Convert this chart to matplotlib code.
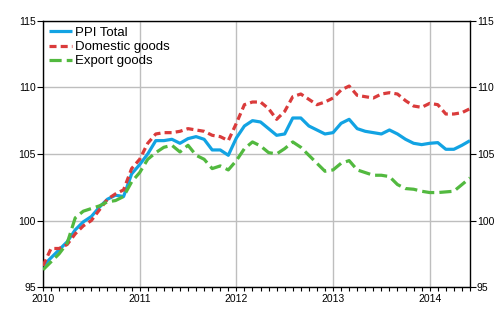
import matplotlib
matplotlib.use("Agg")
import matplotlib.pyplot as plt
from matplotlib.ticker import MultipleLocator, FixedLocator
import numpy as np

plt.rcParams['font.family'] = ['Liberation Sans', 'DejaVu Sans']

year_labels = ["2010", "2011", "2012", "2013", "2014"]
y_ticks = [95, 100, 105, 110, 115]

ppi_total = [96.6, 97.2, 97.8, 98.4, 99.3, 99.9, 100.3, 101.0, 101.6, 101.9, 101.8, 103.5,
             104.2, 105.0, 106.0, 106.0, 106.1, 105.8, 106.15, 106.3, 106.1, 105.3, 105.3, 104.9,
             106.2, 107.1, 107.5, 107.4, 106.9, 106.4, 106.5, 107.7, 107.7, 107.1, 106.8, 106.5,
             106.6, 107.3, 107.6, 106.9, 106.7, 106.6, 106.5, 106.8, 106.5, 106.1, 105.8, 105.7,
             105.8, 105.85, 105.35, 105.35, 105.65, 106.0]
domestic = [96.6, 97.9, 97.9, 98.2, 99.0, 99.6, 100.0, 100.8, 101.6, 102.0, 102.3, 103.9,
            104.6, 105.8, 106.5, 106.6, 106.6, 106.7, 106.9, 106.8, 106.7, 106.4, 106.3, 106.0,
            107.3, 108.7, 108.9, 108.9, 108.4, 107.6, 108.2, 109.3, 109.5, 109.1, 108.7, 108.9,
            109.2, 109.8, 110.1, 109.4, 109.3, 109.2, 109.5, 109.6, 109.5, 109.0, 108.6, 108.5,
            108.8, 108.7, 108.0, 108.0, 108.1, 108.4]
export = [96.3, 96.9, 97.5, 98.3, 100.2, 100.7, 100.9, 101.1, 101.4, 101.5, 101.8, 102.9,
          103.6, 104.6, 105.1, 105.5, 105.65, 105.15, 105.65, 104.9, 104.6, 103.9, 104.1, 103.8,
          104.5, 105.4, 105.9, 105.6, 105.1, 105.0, 105.4, 105.9, 105.5, 104.9, 104.3, 103.7,
          103.8, 104.3, 104.5, 103.8, 103.6, 103.4, 103.4, 103.3, 102.7, 102.4, 102.35, 102.2,
          102.1, 102.1, 102.15, 102.2, 102.7, 103.2]

x = np.arange(len(ppi_total))

fig = plt.figure(figsize=(5.0, 3.3), dpi=100)
ax = fig.add_axes([0.086, 0.130, 0.854, 0.807])

blue = '#12A3E3'
red = '#DA3B3B'
green = '#52B93F'
lw = 2.3

ax.plot(x, ppi_total, color=blue, lw=lw, label='PPI Total', zorder=3,
        solid_joinstyle='round', solid_capstyle='butt')
l2, = ax.plot(x, domestic, color=red, lw=lw, label='Domestic goods', zorder=3)
l2.set_dashes([2.2, 1.3])
l3, = ax.plot(x, export, color=green, lw=lw, label='Export goods', zorder=3)
l3.set_dashes([3.8, 1.6])

ax.set_xlim(0, len(ppi_total) - 1)
ax.set_ylim(95, 115)
ax.xaxis.set_major_locator(FixedLocator([12 * i for i in range(len(year_labels))]))
ax.set_xticklabels(year_labels)
ax.xaxis.set_minor_locator(MultipleLocator(1))
ax.set_yticks(y_ticks)

ax.grid(True, which='major', color='#BEBEBE', lw=1.0, zorder=0)
ax.set_axisbelow(True)

ax.tick_params(axis='y', which='major', direction='out', length=4, width=0.8,
               labelsize=7.5, colors='black', pad=1)
ax.tick_params(axis='x', which='both', direction='out', length=3, width=0.8,
               labelsize=7.5, colors='black', pad=2)
ax.tick_params(axis='y', which='both', left=True, right=True, labelleft=True, labelright=True)

for s in ax.spines.values():
    s.set_linewidth(1.0)
    s.set_color('black')

leg = ax.legend(loc='upper left', frameon=False, fontsize=9.5, handlelength=1.75,
                handletextpad=0.25, labelspacing=0.15, borderaxespad=0.05,
                bbox_to_anchor=(0.0, 1.0))

fig.savefig('out.png', dpi=100)
